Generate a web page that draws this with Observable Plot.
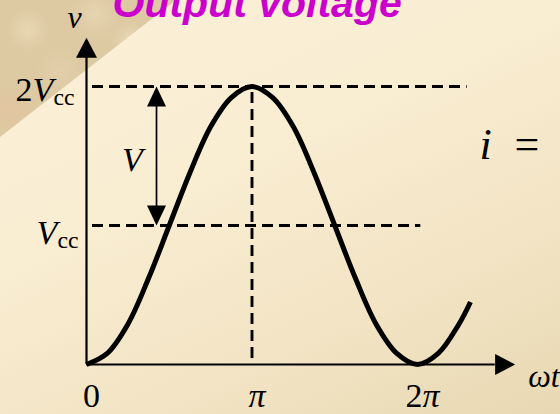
<!DOCTYPE html>
<html>
<head>
<meta charset="utf-8">
<script src="https://cdn.jsdelivr.net/npm/d3@7"></script>
<script src="https://cdn.jsdelivr.net/npm/@observablehq/plot@0.6"></script>
<style>
html, body { margin: 0; padding: 0; }
#bg {
  position: relative; width: 560px; height: 414px; overflow: hidden;
  background: linear-gradient(155deg, #fbf0d8 0%, #f9edd2 40%, #f1e3c2 75%, #e8d8b3 100%);
}
#corner {
  position: absolute; left: 0; top: 0; width: 560px; height: 414px;
  clip-path: polygon(0 0, 176px 0, 0 137px);
  background:
    radial-gradient(circle at 28px 30px, rgba(238,222,188,0.7) 0, rgba(238,222,188,0) 22px),
    radial-gradient(circle at 95px 14px, rgba(236,220,186,0.6) 0, rgba(236,220,186,0) 26px),
    radial-gradient(circle at 60px 70px, rgba(230,212,176,0.6) 0, rgba(230,212,176,0) 24px),
    radial-gradient(circle at 12px 110px, rgba(226,196,160,0.8) 0, rgba(226,196,160,0) 26px),
    radial-gradient(circle at 130px 40px, rgba(240,226,196,0.6) 0, rgba(240,226,196,0) 20px),
    #ddc9a2;
}
#chart { position: absolute; left: 0; top: 0; }
</style>
</head>
<body>
<div id="bg"><div id="corner"></div><div id="chart"></div></div>
<script>
// ---- data (ωt in units of π, v in units of Vcc) ----
const omegaT  = [0, 0.125, 0.25, 0.375, 0.5, 0.625, 0.75, 0.875, 1, 1.125, 1.25, 1.375, 1.5, 1.625, 1.75, 1.875, 2, 2.125, 2.25, 2.32];
const voltage = [0, 0.08, 0.29, 0.62, 1.0, 1.38, 1.71, 1.92, 2, 1.92, 1.71, 1.38, 1.0, 0.62, 0.29, 0.08, 0, 0.08, 0.29, 0.45];
const xTickValues = [0, 1, 2];
const xTickLabels = ["0", "π", "2π"];
const yTickValues = [1, 2];
const yTickLabels = ["V_cc", "2V_cc"];
const swingSpan = [1, 2];          // V: from Vcc to 2Vcc
const swingLabel = "V";
const peakT = [1];                  // ωt = π
const titleText = "Output voltage";
const yAxisLabel = "v";
const xAxisLabel = "ωt";

const curve = omegaT.map((t, i) => ({t, v: voltage[i]}));

// custom filled triangle arrowheads (tip at the point)
const tri = (dir, w, h) => ({
  draw(ctx) {
    if (dir === "up") { ctx.moveTo(0, 0); ctx.lineTo(-w / 2, h); ctx.lineTo(w / 2, h); }
    else if (dir === "down") { ctx.moveTo(0, 0); ctx.lineTo(-w / 2, -h); ctx.lineTo(w / 2, -h); }
    else { ctx.moveTo(0, 0); ctx.lineTo(-h, -w / 2); ctx.lineTo(-h, w / 2); }
    ctx.closePath();
  }
});

const serif = "'Liberation Serif', 'Times New Roman', serif";
const dash = {strokeDasharray: "11,6", strokeDashoffset: 11, strokeWidth: 2.9, stroke: "black"};
const yTop = 2.35, xEnd = 2.59;

const plot = Plot.plot({
  width: 560,
  height: 414,
  marginLeft: 86,
  marginRight: 143,
  marginTop: 86,
  marginBottom: 50,
  x: {domain: [0, 2], axis: null},
  y: {domain: [0, 2], axis: null},
  style: {background: "transparent", overflow: "visible"},
  marks: [
    // dashed guides
    Plot.ruleY(yTickValues, {y: d => d, x1: 0, x2: d => (d === 2 ? 2.30 : 2.02), ...dash}),
    Plot.ruleX(peakT, {x: d => d, y1: 0, y2: 2, ...dash}),
    // axes
    Plot.ruleX([0], {y1: 0, y2: yTop - 0.14, strokeWidth: 2.2}),
    Plot.ruleY([0], {x1: 0, x2: xEnd - 0.12, strokeWidth: 2.2}),
    Plot.dot([0], {x: 0, y: yTop, r: 5, symbol: tri("up", 21, 20), fill: "black", stroke: "none"}),
    Plot.dot([0], {x: xEnd, y: 0, r: 5, symbol: tri("right", 21, 20), fill: "black", stroke: "none"}),
    // swing double arrow
    Plot.ruleX([0.423], {x: d => d, y1: swingSpan[0] + 0.12, y2: swingSpan[1] - 0.12, strokeWidth: 1.7}),
    Plot.dot([swingSpan[1]], {x: 0.423, y: d => d, r: 5, symbol: tri("up", 19, 20), fill: "black", stroke: "none"}),
    Plot.dot([swingSpan[0]], {x: 0.423, y: d => d, r: 5, symbol: tri("down", 19, 20), fill: "black", stroke: "none"}),
    // the waveform
    Plot.line(curve, {x: "t", y: "v", curve: "catmull-rom", strokeWidth: 5, stroke: "black", strokeLinecap: "butt"}),
    // labels
    Plot.text(xTickValues, {x: d => d, y: 0, text: (d, i) => xTickLabels[i], dx: 5, dy: 42, lineAnchor: "bottom",
      fontSize: 34, fontFamily: serif, fill: "black"}),
    Plot.text([yTickValues[1]], {x: 0, y: d => d, text: () => yTickLabels[1], textAnchor: "end", dx: -12, dy: 14,
      lineAnchor: "bottom", fontSize: 34, fontFamily: serif, fill: "black"}),
    Plot.text([yTickValues[0]], {x: 0, y: d => d, text: () => yTickLabels[0], textAnchor: "end", dx: -8, dy: 18,
      lineAnchor: "bottom", fontSize: 34, fontFamily: serif, fill: "black"}),
    Plot.text([1.5], {x: 0.423, y: d => d, text: () => swingLabel, dx: -24, dy: 15, lineAnchor: "bottom",
      fontSize: 34, fontFamily: serif, fontStyle: "italic", fill: "black"}),
    Plot.text([yTop], {x: 0, y: d => d, text: () => yAxisLabel, dx: -12, dy: -10, lineAnchor: "bottom",
      fontSize: 32, fontFamily: serif, fontStyle: "italic", fill: "black"}),
    Plot.text([0], {x: xEnd, y: d => d, text: () => xAxisLabel, textAnchor: "start", dx: 13, dy: 22, lineAnchor: "bottom",
      fontSize: 32, fontFamily: serif, fontStyle: "italic", fill: "black"}),
    // title and the cut-off equation at the right
    Plot.text([titleText], {frameAnchor: "top-left", text: d => d, textAnchor: "start", dx: 26, dy: -70, lineAnchor: "bottom",
      fontSize: 41, fontFamily: "'Liberation Sans', Arial, sans-serif", fontWeight: "bold", fontStyle: "italic", fill: "#cc00cc"}),
    Plot.text(["i"], {frameAnchor: "top-left", text: d => d, textAnchor: "start", dx: 393, dy: 72, lineAnchor: "bottom",
      fontSize: 44, fontFamily: serif, fontStyle: "italic", fill: "black"}),
    Plot.text(["="], {frameAnchor: "top-left", text: d => d, textAnchor: "start", dx: 428, dy: 72, lineAnchor: "bottom",
      fontSize: 44, fontFamily: serif, fill: "black"})
  ]
});

// typeset tick labels: digits upright, letters italic, "_" starts an upright subscript
d3.select(plot).selectAll("text").each(function () {
  const t = d3.select(this);
  const s = t.text();
  if (!/_|π/.test(s)) return;
  t.text(null);
  const [main, sub] = s.split("_");
  for (const g of (main.match(/\d+|[^\d]+/g) || [])) {
    t.append("tspan").attr("font-style", /\d/.test(g) ? "normal" : "italic").text(g);
  }
  if (sub) t.append("tspan").attr("font-style", "normal").attr("font-size", "0.7em").attr("dy", "0.2em").text(sub);
});

document.getElementById("chart").append(plot);
</script>
</body>
</html>
